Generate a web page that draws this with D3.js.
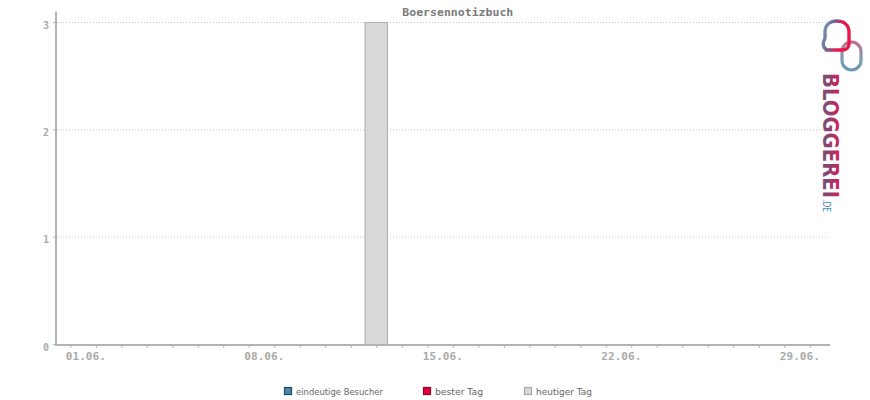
<!DOCTYPE html>
<html>
<head>
<meta charset="utf-8">
<script src="https://cdn.jsdelivr.net/npm/d3@7/dist/d3.min.js"></script>
<style>
  html, body { margin: 0; padding: 0; background: #fff; }
  svg { display: block; }
</style>
</head>
<body>
<svg id="chart" width="870" height="400"></svg>
<script>
const title = "Boersennotizbuch";
const days = d3.range(1, 31);
const todayVisitors = [{ day: 13, value: 3 }];
const yTicks = [0, 1, 2, 3];
const xLabelDays = [1, 8, 15, 22, 29];
const legendItems = [
  { label: "eindeutige Besucher", fill: "#4f89a8", stroke: "#1d4b63" },
  { label: "bester Tag", fill: "#e8003c", stroke: "#9a0028" },
  { label: "heutiger Tag", fill: "#d9d9d9", stroke: "#a8a8a8" }
];

const svg = d3.select("#chart");
const mono = "'DejaVu Sans Mono', 'Liberation Mono', monospace";

const x = d3.scaleLinear().domain([1, 30]).range([70.3, 809.8]);
const y = d3.scaleLinear().domain([0, 3]).range([344, 22]);

// gridlines
svg.append("g").selectAll("line").data(yTicks.filter(d => d > 0)).join("line")
  .attr("x1", 57).attr("x2", 830)
  .attr("y1", d => y(d) + 0.5).attr("y2", d => y(d) + 0.5)
  .attr("stroke", "#c8c8c8").attr("stroke-dasharray", "1,2");

// bars
const bw = 23.5;
svg.append("g").selectAll("rect").data(todayVisitors).join("rect")
  .attr("x", d => x(d.day) - bw / 2 + 0.5)
  .attr("y", d => y(d.value) + 0.5)
  .attr("width", bw - 1)
  .attr("height", d => y(0) - y(d.value))
  .attr("fill", "#d9d9d9").attr("stroke", "#adadad").attr("stroke-width", 1);

// y axis
const yAxis = d3.axisLeft(y).tickValues(yTicks).tickSize(3).tickPadding(4).tickFormat(d3.format("d"));
const gy = svg.append("g").attr("transform", "translate(56,0)").call(yAxis);
gy.select(".domain").remove();
gy.append("line").attr("x1", 0).attr("x2", 0).attr("y1", 11.5).attr("y2", 346)
  .attr("stroke", "#b3b3b3").attr("stroke-width", 2);
gy.selectAll(".tick line").attr("stroke", "#b3b3b3");
gy.selectAll(".tick text").attr("fill", "#aaaaaa").attr("font-family", mono)
  .attr("font-size", 10).attr("font-weight", "bold").attr("dy", "0.62em");

// x axis
const xAxis = d3.axisBottom(x).tickValues(days).tickSize(3).tickFormat("");
const gx = svg.append("g").attr("transform", "translate(0,345)").call(xAxis);
gx.select(".domain").remove();
gx.append("line").attr("x1", 55).attr("x2", 830).attr("y1", 0).attr("y2", 0)
  .attr("stroke", "#b3b3b3").attr("stroke-width", 2);
gx.selectAll(".tick line").attr("stroke", "#b3b3b3").attr("y1", 1);

svg.append("g").selectAll("text").data(xLabelDays).join("text")
  .attr("x", d => x(d) - 4.5).attr("y", 360)
  .attr("fill", "#aaaaaa").attr("font-family", mono).attr("font-size", 10)
  .attr("font-weight", "bold")
  .attr("textLength", 40).attr("lengthAdjust", "spacingAndGlyphs")
  .text(d => String(d).padStart(2, "0") + ".06.");

// title
svg.append("text").attr("x", 457.8).attr("y", 15.5).attr("text-anchor", "middle")
  .attr("fill", "#7a7a7a").attr("font-family", mono).attr("font-size", 10.5)
  .attr("font-weight", "bold").attr("textLength", 111).attr("lengthAdjust", "spacingAndGlyphs")
  .text(title);

// legend
const legX = [284.5, 423.5, 524.5];
const textLen = [87, 48, 56];
const lg = svg.append("g").selectAll("g").data(legendItems).join("g")
  .attr("transform", (d, i) => `translate(${legX[i]},387.5)`);
lg.append("rect").attr("width", 7).attr("height", 7)
  .attr("fill", d => d.fill).attr("stroke", d => d.stroke).attr("stroke-width", 1.2);
lg.append("text").attr("x", 11.5).attr("y", 7.5)
  .attr("fill", "#666").attr("font-family", "'DejaVu Sans', Verdana, sans-serif")
  .attr("font-size", 9)
  .attr("textLength", (d, i) => textLen[i]).attr("lengthAdjust", "spacingAndGlyphs")
  .text(d => d.label);

// logo
const defs = svg.append("defs");
const g1 = defs.append("linearGradient").attr("id", "lg1").attr("x1", 0).attr("y1", 0).attr("x2", 1).attr("y2", 0.3);
g1.append("stop").attr("offset", "0%").attr("stop-color", "#6aa6c2");
g1.append("stop").attr("offset", "45%").attr("stop-color", "#7a5a86");
g1.append("stop").attr("offset", "75%").attr("stop-color", "#e8164a");
g1.append("stop").attr("offset", "100%").attr("stop-color", "#e8164a");
const g2 = defs.append("linearGradient").attr("id", "lg2").attr("x1", 0).attr("y1", 0).attr("x2", 0).attr("y2", 1);
g2.append("stop").attr("offset", "0%").attr("stop-color", "#c76a8a");
g2.append("stop").attr("offset", "60%").attr("stop-color", "#7aa0b8");
g2.append("stop").attr("offset", "100%").attr("stop-color", "#6a9ab8");
const g3 = defs.append("linearGradient").attr("id", "lg3").attr("x1", 0).attr("y1", 0).attr("x2", 0).attr("y2", 1);
g3.append("stop").attr("offset", "0%").attr("stop-color", "#e8164a");
g3.append("stop").attr("offset", "45%").attr("stop-color", "#9a3a6e");
g3.append("stop").attr("offset", "100%").attr("stop-color", "#56607e");

const logo = svg.append("g");
// right pill
logo.append("rect").attr("x", 842).attr("y", 42).attr("width", 19).attr("height", 28).attr("rx", 9.5)
  .attr("fill", "none").attr("stroke", "url(#lg2)").attr("stroke-width", 3.2);
// left arch (bubble)
logo.append("path")
  .attr("d", "M826,49 C822,47 823,42 825,38 L825,32 C825,24 831,21 836,21 C843,21 849,24 849,32 L849,44 C849,48 846,50 842,50 L826,50")
  .attr("fill", "none").attr("stroke", "url(#lg1)").attr("stroke-width", 3.4).attr("stroke-linecap", "round");

logo.append("text").attr("transform", "translate(823,73) rotate(90)")
  .attr("font-family", "'DejaVu Sans', sans-serif").attr("font-weight", "bold").attr("font-size", 21)
  .attr("fill", "url(#lg3)").attr("textLength", 125).attr("lengthAdjust", "spacingAndGlyphs")
  .text("BLOGGEREI");
logo.append("text").attr("transform", "translate(823,199) rotate(90)")
  .attr("font-family", "'DejaVu Sans', sans-serif").attr("font-size", 11)
  .attr("fill", "#4a8ab8").attr("textLength", 13).attr("lengthAdjust", "spacingAndGlyphs")
  .text(".DE");
</script>
</body>
</html>
